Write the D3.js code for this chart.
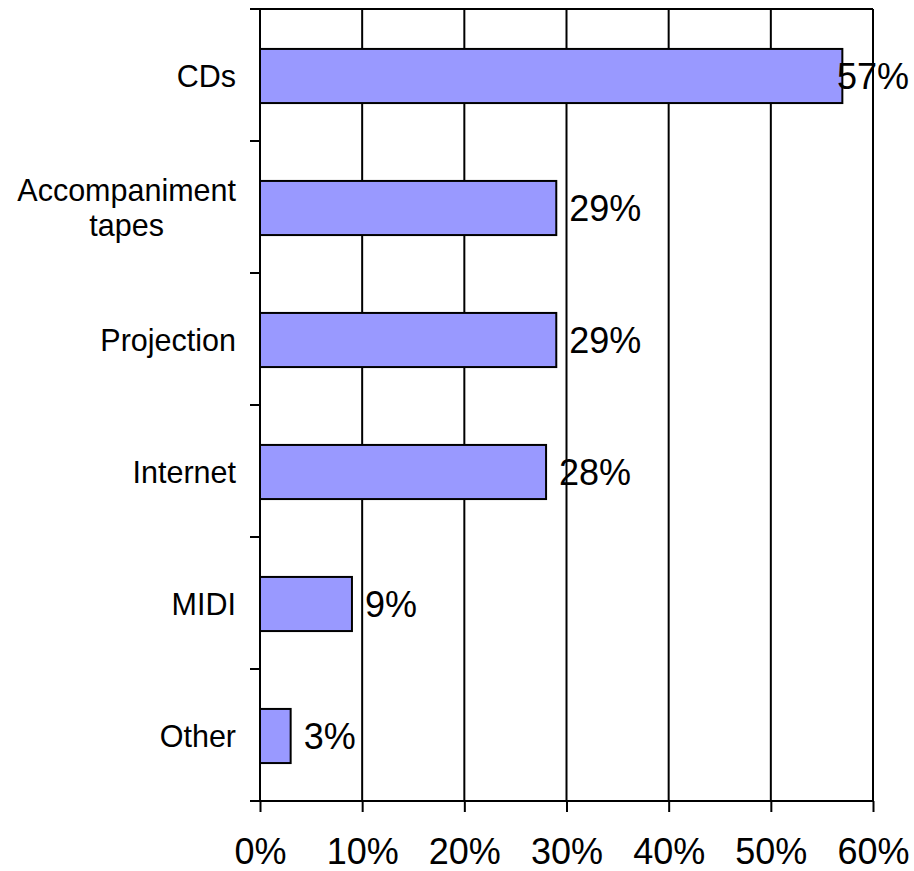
<!DOCTYPE html>
<html>
<head>
<meta charset="utf-8">
<script src="https://cdn.jsdelivr.net/npm/d3@7"></script>
<style>
  html, body { margin: 0; padding: 0; background: #fff; }
  svg { display: block; font-family: "Liberation Sans", Arial, sans-serif; }
</style>
</head>
<body>
<svg id="chart" width="914" height="871"></svg>
<script>
// ---- data ----
const categories = ["CDs", "Accompaniment\ntapes", "Projection", "Internet", "MIDI", "Other"];
const values = [0.57, 0.29, 0.29, 0.28, 0.09, 0.03];
const valueLabels = ["57%", "29%", "29%", "28%", "9%", "3%"];
const xTicks = [0, 0.1, 0.2, 0.3, 0.4, 0.5, 0.6];
const xTickLabels = ["0%", "10%", "20%", "30%", "40%", "50%", "60%"];

// ---- layout ----
const svg = d3.select("#chart");
const plotL = 260, plotR = 873, plotT = 9, plotB = 801;
const x = d3.scaleLinear().domain([0, 0.6]).range([plotL, plotR]);
const y = d3.scaleBand().domain(categories).range([plotT, plotB]).padding(0);
const bw = y.bandwidth();
const barH = bw * 0.41;

// gridlines
svg.append("g").selectAll("line").data(xTicks.slice(1)).join("line")
  .attr("x1", d => x(d)).attr("x2", d => x(d))
  .attr("y1", plotT).attr("y2", plotB)
  .attr("stroke", "#000").attr("stroke-width", 2);

// top line
svg.append("line").attr("x1", plotL - 10).attr("x2", plotR)
  .attr("y1", plotT).attr("y2", plotT).attr("stroke", "#000").attr("stroke-width", 2);

// bars
svg.append("g").selectAll("rect").data(categories).join("rect")
  .attr("x", x(0))
  .attr("y", d => y(d) + (bw - barH) / 2 + 1)
  .attr("width", (d, i) => x(values[i]) - x(0))
  .attr("height", barH)
  .attr("fill", "#9999FF")
  .attr("stroke", "#000").attr("stroke-width", 2);

// y axis line + ticks
svg.append("line").attr("x1", plotL).attr("x2", plotL).attr("y1", plotT).attr("y2", plotB)
  .attr("stroke", "#000").attr("stroke-width", 2);
const yTickPos = categories.map(c => y(c)).concat([plotB]);
svg.append("g").selectAll("line").data(yTickPos).join("line")
  .attr("x1", plotL - 10).attr("x2", plotL).attr("y1", d => d).attr("y2", d => d)
  .attr("stroke", "#000").attr("stroke-width", 2);

// x axis
const xAxis = d3.axisBottom(x).tickValues(xTicks).tickSize(11)
  .tickFormat((d, i) => xTickLabels[i]);
const gx = svg.append("g").attr("transform", `translate(0,${plotB})`).call(xAxis);
gx.select(".domain").attr("stroke", "#000").attr("stroke-width", 2)
  .attr("d", `M${plotL - 10},0H${plotR}`);
gx.selectAll(".tick line").attr("stroke", "#000").attr("stroke-width", 2);
gx.selectAll(".tick text")
  .attr("font-size", 36).attr("font-family", "Liberation Sans, Arial, sans-serif")
  .attr("fill", "#000").attr("y", 63).attr("dy", 0);

// category labels
const labelRight = 236, catFont = 30.5, lineH = 35;
categories.forEach(c => {
  const lines = c.split("\n");
  const cy = y(c) + bw / 2 + 1;
  const g = svg.append("g");
  const texts = lines.map((ln, k) => g.append("text")
    .attr("font-size", catFont).attr("fill", "#000")
    .attr("y", cy + (k - (lines.length - 1) / 2) * lineH + catFont * 0.35)
    .text(ln));
  const widths = texts.map(t => t.node().getComputedTextLength());
  const maxW = d3.max(widths);
  const centerX = labelRight - maxW / 2;
  texts.forEach(t => t.attr("x", centerX).attr("text-anchor", "middle"));
});

// value labels
const valFont = 36, maxRight = 909;
categories.forEach((c, i) => {
  const cy = y(c) + (bw - barH) / 2 + 1 + barH / 2;
  const t = svg.append("text").attr("font-size", valFont).attr("fill", "#000")
    .attr("y", cy + valFont * 0.35).text(valueLabels[i]);
  const w = t.node().getComputedTextLength();
  const xs = Math.min(x(values[i]) + 13, maxRight - w);
  t.attr("x", xs);
});
</script>
</body>
</html>
